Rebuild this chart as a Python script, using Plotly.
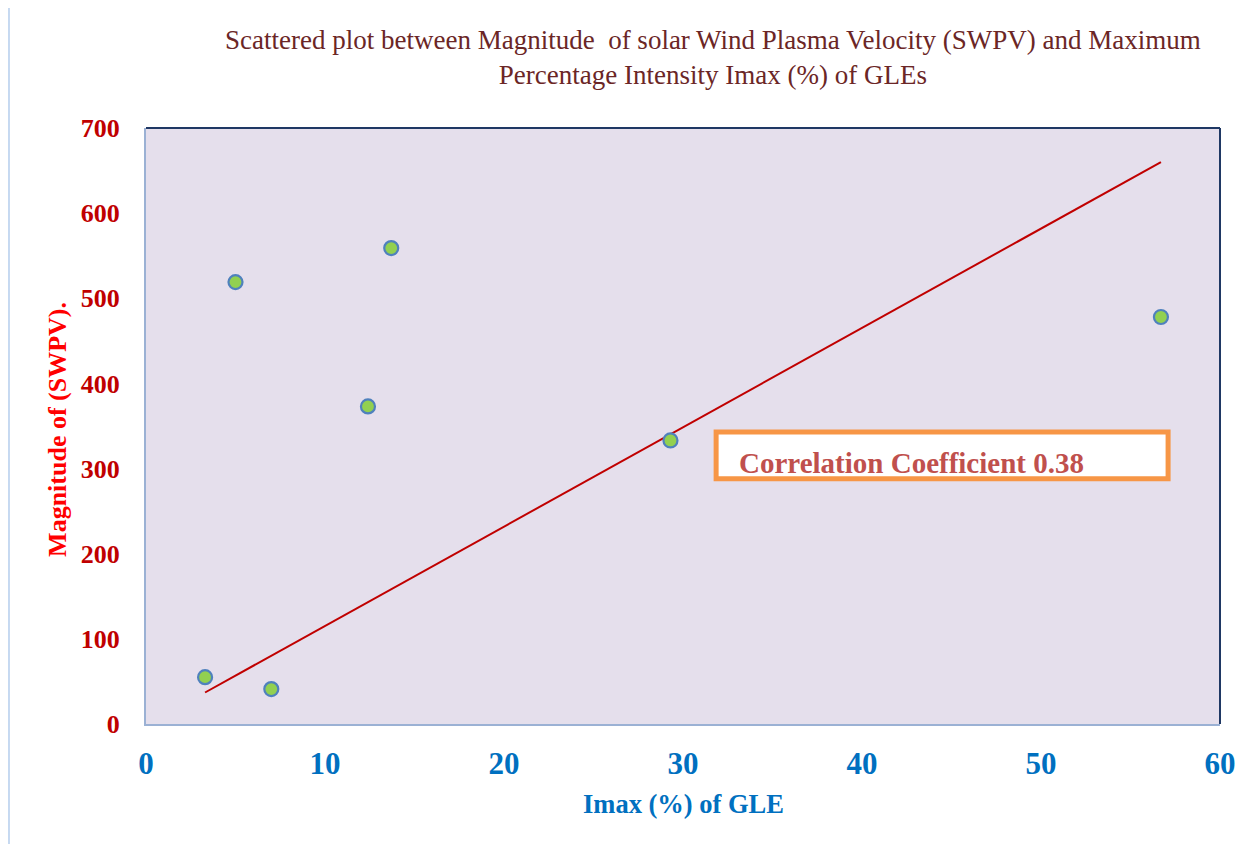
import plotly.graph_objects as go

# Data
imax_pct = [3.3, 5.0, 7.0, 12.4, 13.7, 29.3, 56.7]
swpv = [55, 519, 41, 373, 559, 333, 478]

# Trend line endpoints as drawn in the reference
trend_x = [3.3, 56.7]
trend_y = [37, 660]

x_ticks = [0, 10, 20, 30, 40, 50, 60]
y_ticks = [0, 100, 200, 300, 400, 500, 600, 700]

title_text = ("Scattered plot between Magnitude  of solar Wind Plasma Velocity (SWPV) and Maximum"
              "<br>Percentage Intensity Imax (%) of GLEs")
x_title = "Imax (%) of GLE"
y_title = "Magnitude of (SWPV)."
corr_label = "Correlation Coefficient 0.38"

SERIF = "Liberation Serif, Times New Roman, serif"

fig = go.Figure()
fig.add_trace(go.Scatter(
    x=trend_x, y=trend_y, mode="lines",
    line=dict(color="#C00000", width=2), showlegend=False, hoverinfo="skip"))
fig.add_trace(go.Scatter(
    x=imax_pct, y=swpv, mode="markers",
    marker=dict(size=14, color="#92D050", line=dict(color="#4F81BD", width=2.2)),
    showlegend=False))

fig.update_layout(
    width=1242, height=836,
    margin=dict(l=138, r=30, t=120, b=120),
    paper_bgcolor="white",
    plot_bgcolor="#E5DFEC",
    xaxis=dict(range=[0, 60], tickvals=x_ticks, showgrid=False, zeroline=False,
               showline=True, linecolor="#9BB1D4", linewidth=2,
               ticks="", ticklabelstandoff=11,
               tickfont=dict(family=SERIF, size=31, color="#0070C0", weight="bold")),
    yaxis=dict(range=[0, 700], tickvals=y_ticks, showgrid=False, zeroline=False,
               showline=True, linecolor="#9BB1D4", linewidth=2,
               ticks="", ticklabelstandoff=19,
               tickfont=dict(family=SERIF, size=26, color="#C00000", weight="bold")),
    shapes=[
        dict(type="line", xref="paper", yref="paper", x0=0, x1=1, y0=1, y1=1,
             line=dict(color="#1F3864", width=2)),
        dict(type="line", xref="paper", yref="paper", x0=1, x1=1, y0=0, y1=1,
             line=dict(color="#1F3864", width=2)),
        dict(type="line", xref="paper", yref="paper", x0=-0.1276, x1=-0.1276, y0=-0.21, y1=1.21,
             line=dict(color="#C6D9F1", width=2)),
        dict(type="rect", xref="x", yref="y", x0=31.85, x1=57.1, y0=288, y1=343,
             fillcolor="white", line=dict(color="#F79646", width=5), layer="above"),
    ],
    annotations=[
        dict(text=title_text, xref="paper", yref="paper", x=0.528, y=1.118,
             xanchor="center", yanchor="middle", showarrow=False,
             font=dict(family=SERIF, size=27, color="#6B2626")),
        dict(text=corr_label, xref="x", yref="y", x=33.0, y=307, xanchor="left", yanchor="middle",
             showarrow=False, font=dict(family=SERIF, size=29, color="#C0504D", weight="bold")),
        dict(text=x_title, xref="paper", yref="paper", x=0.5, y=-0.134, xanchor="center",
             yanchor="middle", showarrow=False,
             font=dict(family=SERIF, size=26.5, color="#0070C0", weight="bold")),
        dict(text=y_title, xref="paper", yref="paper", x=-0.082, y=0.495, xanchor="center",
             yanchor="middle", textangle=-90, showarrow=False,
             font=dict(family=SERIF, size=26, color="#FF0000", weight="bold")),
    ],
)

fig.write_html("out.html")
